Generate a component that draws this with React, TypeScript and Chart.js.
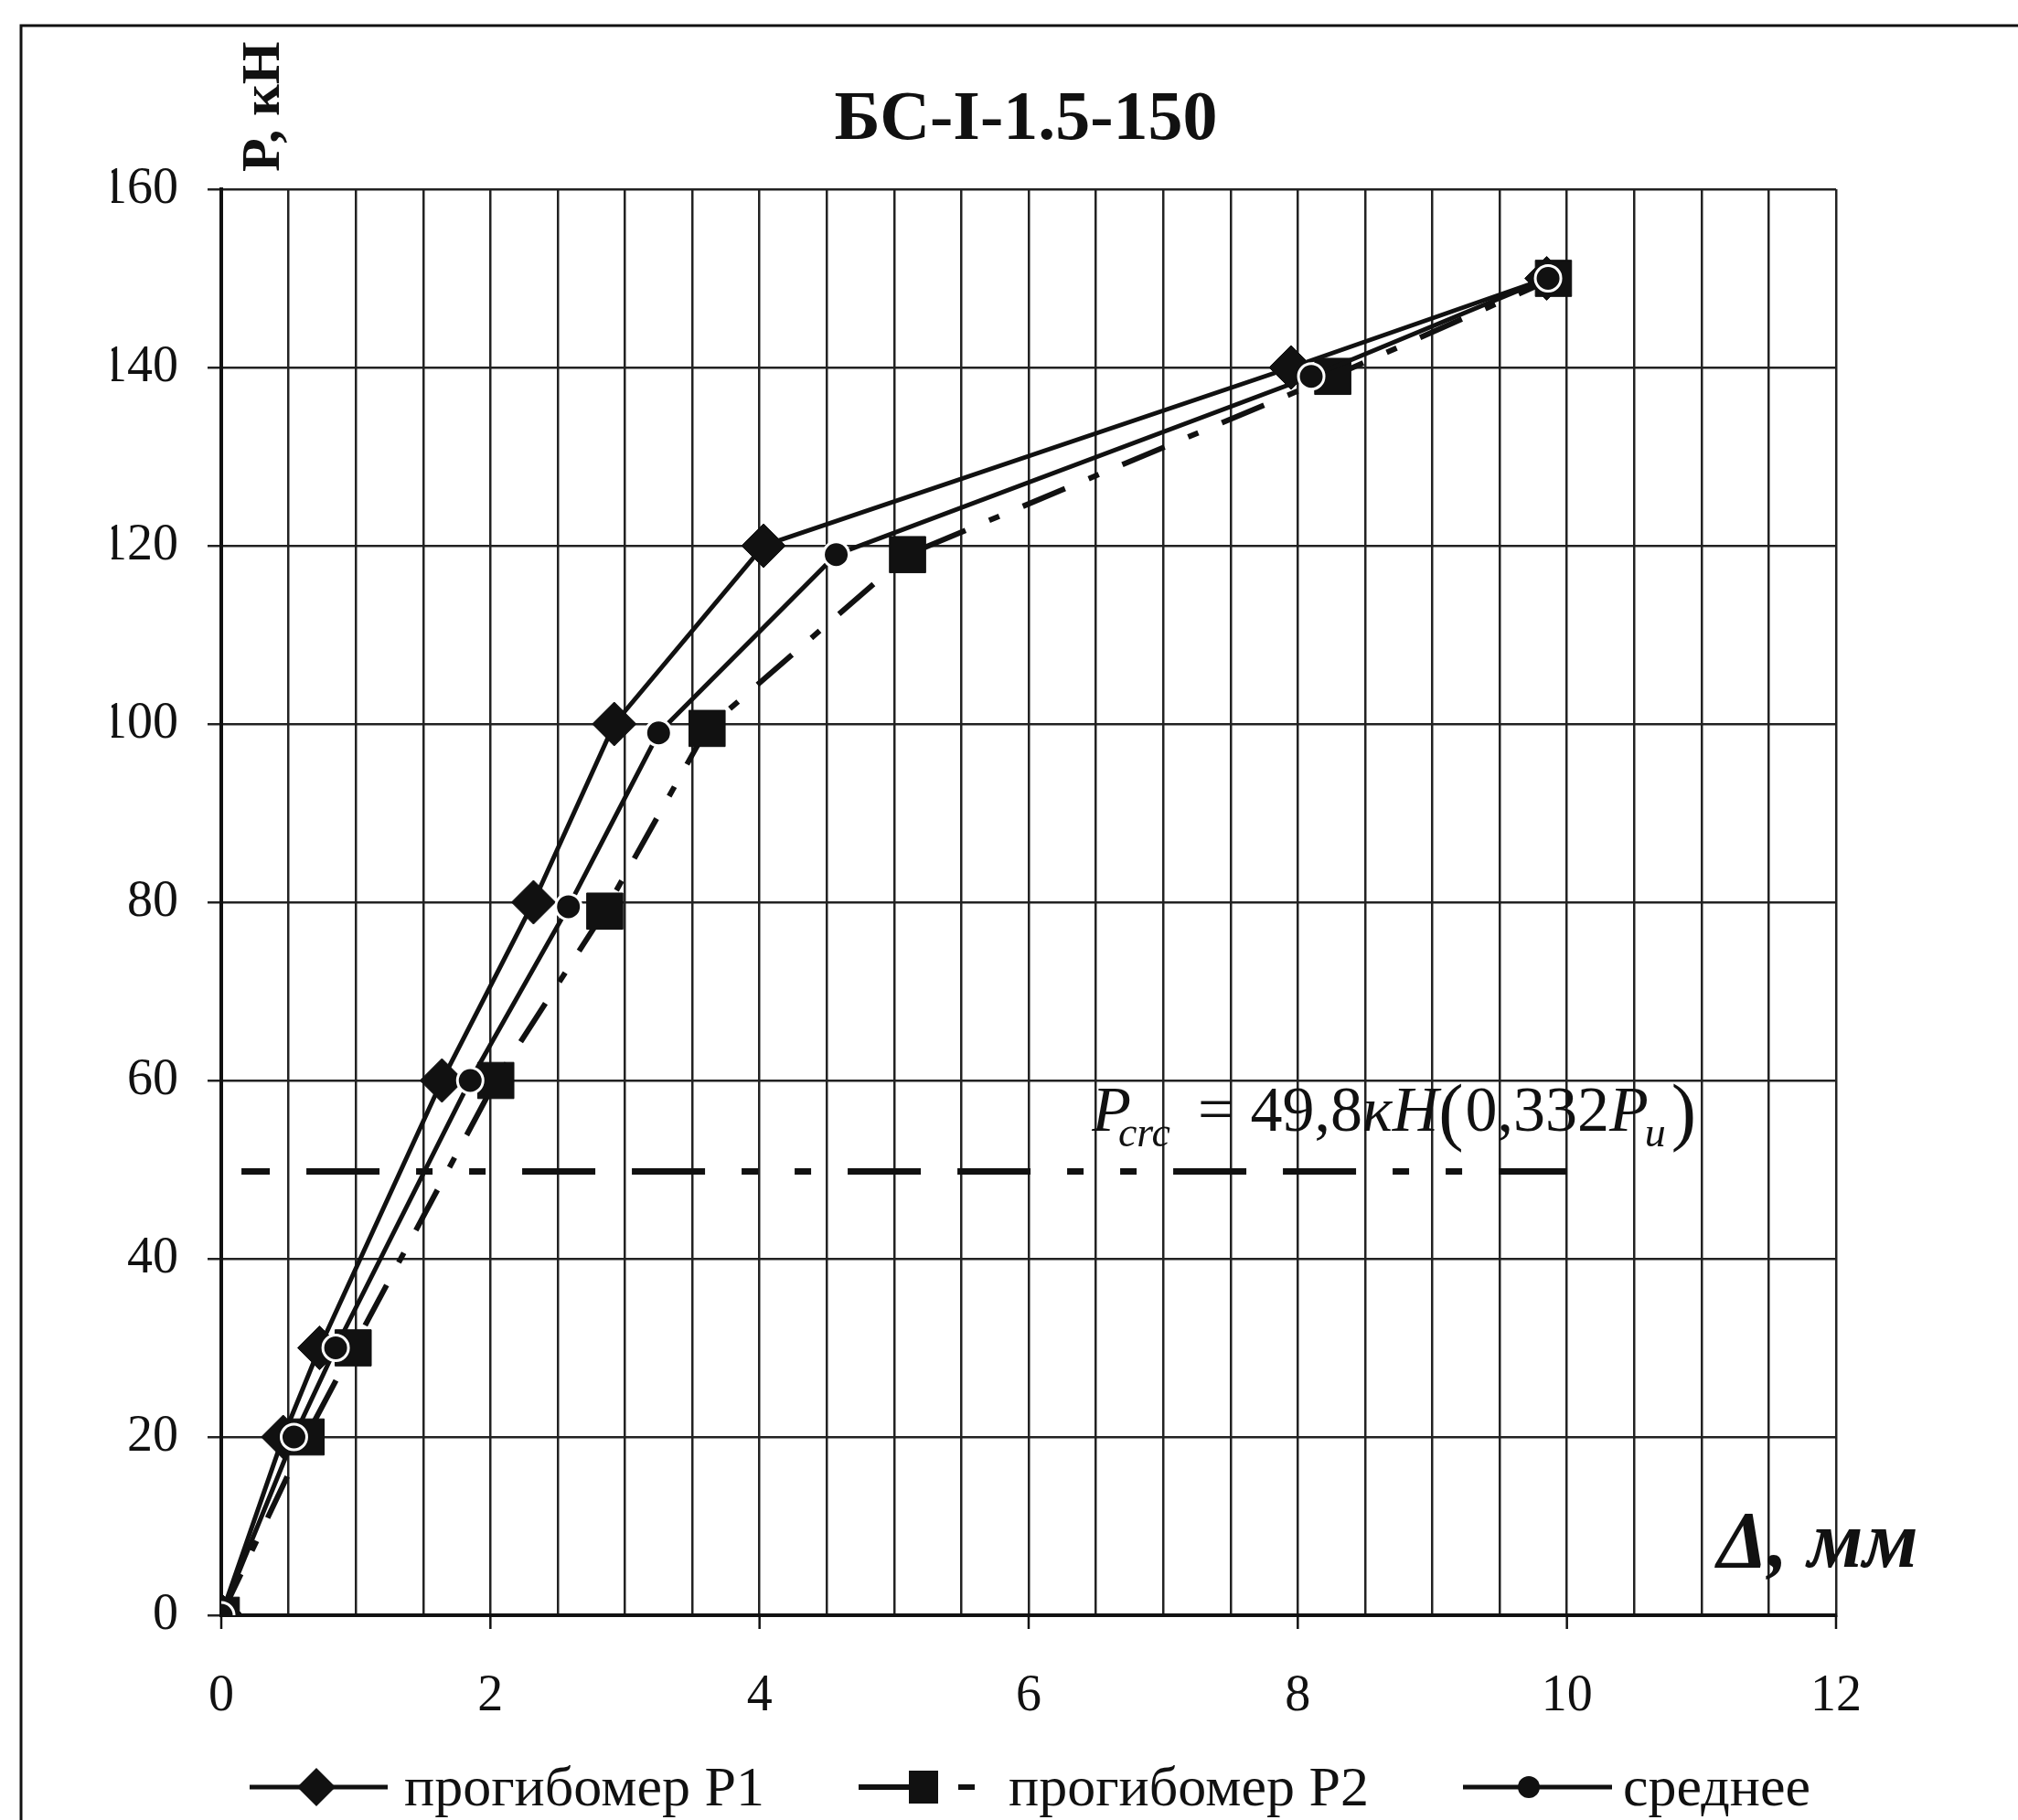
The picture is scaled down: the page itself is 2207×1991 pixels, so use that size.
import React, { useEffect, useRef } from 'react';
import { Chart, registerables } from 'chart.js';

Chart.register(...registerables);

// ---------- data ----------
const chartTitle = 'БС-I-1.5-150';
const yAxisTitle = 'P, кН';
const xAxisTitle = 'Δ, мм';
const seriesNames = ['прогибомер P1', 'прогибомер P2', 'среднее'];

const loadsP1 = [0, 20, 30, 60, 80, 100, 120, 140, 150];
const deflP1 = [0, 0.46, 0.73, 1.64, 2.32, 2.92, 4.03, 7.95, 9.85];

const loadsP2 = [0, 20, 30, 60, 79, 99.5, 119, 139, 150];
const deflP2 = [0, 0.63, 0.98, 2.04, 2.85, 3.61, 5.1, 8.26, 9.9];

const loadsAvg = [0, 20, 30, 60, 79.5, 99, 119, 139, 150];
const deflAvg = [0, 0.54, 0.85, 1.85, 2.58, 3.25, 4.57, 8.1, 9.86];

const crackLoad = 49.8;
const crackLineFromTo = [0.15, 10];
const crackLabelPos = { x: 6.47, y: 54.4 };
const crackLabelParts = ['P', 'crc', '=', '49,8', 'кН', '(', '0,332', 'P', 'и', ')'];

const xMin = 0, xMax = 12, xGridStep = 0.5;
const xTickLabels = [0, 2, 4, 6, 8, 10, 12];
const yMin = 0, yMax = 160, yStep = 20;

const F = '"Liberation Serif", "Times New Roman", serif';
const INK = '#111';

const toPoints = (xs: number[], ys: number[]) => xs.map((x, i) => ({ x, y: ys[i] }));

function diamond(ctx: CanvasRenderingContext2D, x: number, y: number, r: number) {
  ctx.beginPath();
  ctx.moveTo(x - r, y);
  ctx.lineTo(x, y - r);
  ctx.lineTo(x + r, y);
  ctx.lineTo(x, y + r);
  ctx.closePath();
  ctx.fill();
}

const decor = {
  id: 'decor',
  beforeDraw(chart: any) {
    const ctx = chart.ctx as CanvasRenderingContext2D;
    ctx.save();
    ctx.fillStyle = '#fff';
    ctx.fillRect(0, 0, chart.width, chart.height);
    ctx.restore();
  },
  beforeDatasetsDraw(chart: any) {
    const ctx = chart.ctx as CanvasRenderingContext2D;
    const xs = chart.scales.x, ys = chart.scales.y;
    const area = chart.chartArea;
    ctx.save();
    ctx.strokeStyle = INK;
    ctx.lineWidth = 2.5;
    xTickLabels.forEach((v) => {
      const px = xs.getPixelForValue(v);
      ctx.beginPath();
      ctx.moveTo(px, area.bottom);
      ctx.lineTo(px, area.bottom + 15);
      ctx.stroke();
    });
    const yPx = ys.getPixelForValue(crackLoad);
    const x0 = xs.getPixelForValue(crackLineFromTo[0]);
    const x1 = xs.getPixelForValue(crackLineFromTo[1]);
    ctx.lineWidth = 7;
    ctx.setLineDash([80, 40, 80, 40, 18, 40, 18, 40]);
    ctx.lineDashOffset = 49;
    ctx.beginPath();
    ctx.moveTo(x0, yPx);
    ctx.lineTo(x1, yPx);
    ctx.stroke();
    ctx.restore();
  },
  afterDraw(chart: any) {
    const ctx = chart.ctx as CanvasRenderingContext2D;
    const xs = chart.scales.x, ys = chart.scales.y;
    const area = chart.chartArea;
    ctx.save();
    ctx.fillStyle = INK;
    ctx.strokeStyle = INK;

    // outer frame (left + top)
    ctx.lineWidth = 3;
    ctx.beginPath();
    ctx.moveTo(23, chart.height);
    ctx.lineTo(23, 28);
    ctx.lineTo(chart.width, 28);
    ctx.stroke();

    // title
    ctx.font = `bold 76px ${F}`;
    ctx.textAlign = 'center';
    ctx.textBaseline = 'alphabetic';
    ctx.fillText(chartTitle, (area.left + area.right) / 2 - 3, 152);

    // y axis title (rotated)
    ctx.save();
    ctx.translate(area.left + 63, 188);
    ctx.rotate(-Math.PI / 2);
    ctx.font = `bold 60px ${F}`;
    ctx.textAlign = 'left';
    ctx.fillText(yAxisTitle, 0, 0);
    ctx.restore();

    // x axis title
    ctx.font = `bold italic 88px ${F}`;
    ctx.textAlign = 'left';
    ctx.fillText(xAxisTitle, area.right - 130, area.bottom - 53);

    // crack annotation, laid out sequentially
    const ax = xs.getPixelForValue(crackLabelPos.x);
    const ay = ys.getPixelForValue(crackLabelPos.y);
    const main = 70, sub = 46, paren = 82;
    const styles = [
      { f: `italic ${main}px ${F}`, dy: 0, pre: 0 },
      { f: `italic ${sub}px ${F}`, dy: 17, pre: -14 },
      { f: `${main}px ${F}`, dy: 0, pre: 30 },
      { f: `${main}px ${F}`, dy: 0, pre: 18 },
      { f: `italic ${main}px ${F}`, dy: 0, pre: 0 },
      { f: `${paren}px ${F}`, dy: 6, pre: 0 },
      { f: `${main}px ${F}`, dy: 0, pre: 2 },
      { f: `italic ${main}px ${F}`, dy: 0, pre: 0 },
      { f: `italic ${sub}px ${F}`, dy: 17, pre: -4 },
      { f: `${paren}px ${F}`, dy: 6, pre: 6 },
    ];
    let cx = ax;
    crackLabelParts.forEach((t, i) => {
      const s = styles[i];
      ctx.font = s.f;
      cx += s.pre;
      ctx.fillText(t, cx, ay + s.dy);
      cx += ctx.measureText(t).width;
    });

    // legend
    const ly = 1955;
    const tb = 1975;
    ctx.font = `62px ${F}`;
    ctx.lineWidth = 5;
    ctx.beginPath();
    ctx.moveTo(273, ly);
    ctx.lineTo(424, ly);
    ctx.stroke();
    diamond(ctx, 346, ly, 21);
    ctx.fillText(seriesNames[0], 442, tb);

    ctx.save();
    ctx.lineWidth = 6;
    ctx.setLineDash([55, 54, 18, 100]);
    ctx.beginPath();
    ctx.moveTo(939, ly);
    ctx.lineTo(1066, ly);
    ctx.stroke();
    ctx.restore();
    ctx.fillRect(994, ly - 18, 32, 36);
    ctx.fillText(seriesNames[1], 1103, tb);

    ctx.beginPath();
    ctx.moveTo(1600, ly);
    ctx.lineTo(1763, ly);
    ctx.stroke();
    ctx.beginPath();
    ctx.arc(1672, ly, 12, 0, Math.PI * 2);
    ctx.fill();
    ctx.fillText(seriesNames[2], 1775, tb);

    ctx.restore();
  },
};

export default function App() {
  const ref = useRef<HTMLCanvasElement | null>(null);
  useEffect(() => {
    if (!ref.current) return;
    const chart = new Chart(ref.current, {
      type: 'scatter',
      data: {
        datasets: [
          {
            label: seriesNames[2],
            data: toPoints(deflAvg, loadsAvg),
            showLine: true,
            borderColor: INK,
            borderWidth: 5,
            pointStyle: 'circle',
            pointRadius: 14,
            pointBackgroundColor: INK,
            pointBorderColor: '#fff',
            pointBorderWidth: 3,
            order: 0,
          },
          {
            label: seriesNames[0],
            data: toPoints(deflP1, loadsP1),
            showLine: true,
            borderColor: INK,
            borderWidth: 5,
            pointStyle: 'rectRot',
            pointRadius: 24,
            pointBackgroundColor: INK,
            pointBorderColor: INK,
            pointBorderWidth: 1,
            order: 1,
          },
          {
            label: seriesNames[1],
            data: toPoints(deflP2, loadsP2),
            showLine: true,
            borderColor: INK,
            borderWidth: 6,
            borderDash: [50, 28, 12, 28],
            pointStyle: 'rect',
            pointRadius: 28,
            pointBackgroundColor: INK,
            pointBorderColor: INK,
            pointBorderWidth: 1,
            order: 2,
          },
        ],
      },
      options: {
        animation: false,
        responsive: false,
        devicePixelRatio: 1,
        layout: { padding: { left: 122, right: 199, top: 207, bottom: 104 } },
        plugins: {
          legend: { display: false },
          title: { display: false },
          tooltip: { enabled: false },
        },
        scales: {
          x: {
            type: 'linear',
            min: xMin,
            max: xMax,
            afterFit: (s: any) => { s.height = 120; },
            ticks: {
              stepSize: xGridStep,
              autoSkip: false,
              maxRotation: 0,
              padding: 56,
              color: INK,
              font: { family: F, size: 56 },
              callback: (v: any) => (xTickLabels.includes(Number(v)) ? String(v) : ''),
            },
            grid: { color: '#222', lineWidth: 2.5, drawTicks: false },
            border: { display: true, color: INK, width: 4 },
          },
          y: {
            type: 'linear',
            min: yMin,
            max: yMax,
            afterFit: (s: any) => { s.width = 120; },
            ticks: {
              stepSize: yStep,
              padding: 32,
              color: INK,
              font: { family: F, size: 56 },
            },
            grid: { color: '#222', lineWidth: 2.5, drawTicks: true, tickLength: 15 },
            border: { display: true, color: INK, width: 4 },
          },
        },
      },
      plugins: [decor],
    } as any);
    return () => chart.destroy();
  }, []);
  return (
    <div style={{ position: 'absolute', left: 0, top: 0, width: 2207, height: 1991, background: '#fff' }}>
      <canvas ref={ref} width={2207} height={1991} style={{ width: 2207, height: 1991, display: 'block' }} />
    </div>
  );
}
